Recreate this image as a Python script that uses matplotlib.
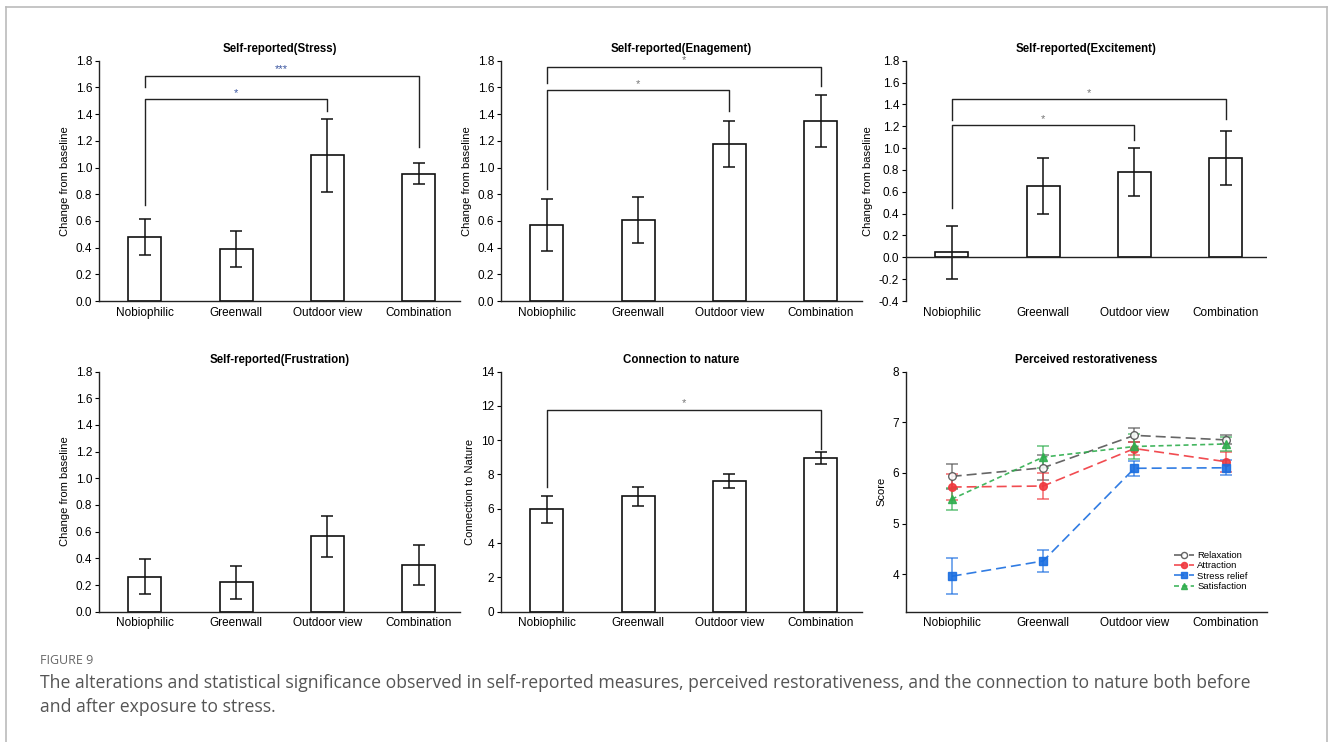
import numpy as np
import matplotlib
matplotlib.use("Agg")
import matplotlib.pyplot as plt
from matplotlib.lines import Line2D

plt.rcParams['font.family'] = ['Liberation Sans', 'DejaVu Sans']

# Data
groups = ["Nobiophilic", "Greenwall", "Outdoor view", "Combination"]

stress_mean = [0.48, 0.39, 1.09, 0.955]
stress_err = [0.137, 0.136, 0.274, 0.076]

engage_mean = [0.567, 0.607, 1.175, 1.348]
engage_err = [0.196, 0.173, 0.172, 0.195]

excite_mean = [0.045, 0.653, 0.784, 0.912]
excite_err = [0.24, 0.257, 0.22, 0.247]

frust_mean = [0.263, 0.22, 0.565, 0.35]
frust_err = [0.129, 0.125, 0.152, 0.15]

nature_mean = [5.96, 6.73, 7.62, 8.96]
nature_err = [0.77, 0.55, 0.43, 0.33]

relax_mean = [5.93, 6.10, 6.74, 6.65]
relax_err = [0.25, 0.25, 0.14, 0.09]
attract_mean = [5.72, 5.74, 6.48, 6.22]
attract_err = [0.25, 0.25, 0.13, 0.2]
relief_mean = [3.96, 4.26, 6.09, 6.10]
relief_err = [0.36, 0.21, 0.15, 0.15]
satis_mean = [5.48, 6.31, 6.52, 6.57]
satis_err = [0.22, 0.21, 0.24, 0.13]

# significance brackets: (i, j, bar height, left leg bottom, right leg bottom, label)
stress_sig = [(0, 3, 1.688, 1.606, 1.156, "***"), (0, 2, 1.513, 0.72, 1.423, "*")]
engage_sig = [(0, 3, 1.755, 1.635, 1.61, "*"), (0, 2, 1.58, 0.84, 1.423, "*")]
excite_sig = [(0, 3, 1.449, 1.257, 1.263, "*"), (0, 2, 1.208, 0.448, 1.074, "*")]
nature_sig = [(0, 3, 11.77, 7.27, 9.46, "*")]

W, H = 1330, 742
fig = plt.figure(figsize=(W / 100, H / 100), dpi=100)

# outer frame of the figure box
fig.add_artist(Line2D([6 / W, 6 / W], [0, 1 - 7 / H], color="#bbbbbb", lw=1.2, transform=fig.transFigure))
fig.add_artist(Line2D([1327 / W, 1327 / W], [0, 1 - 7 / H], color="#bbbbbb", lw=1.2, transform=fig.transFigure))
fig.add_artist(Line2D([6 / W, 1327 / W], [1 - 7 / H, 1 - 7 / H], color="#bbbbbb", lw=1.2, transform=fig.transFigure))

lefts = [99, 501, 906]
row_bottom = [301, 611.7]
row_top = [60.7, 371.5]
aw = 361


def make_ax(r, c):
    x0 = lefts[c] / W
    y0 = 1 - row_bottom[r] / H
    h = (row_bottom[r] - row_top[r]) / H
    ax = fig.add_axes([x0, y0, aw / W, h])
    ax.spines['top'].set_visible(False)
    ax.spines['right'].set_visible(False)
    for s in ['left', 'bottom']:
        ax.spines[s].set_linewidth(1.0)
        ax.spines[s].set_color("#222222")
    ax.set_xlim(-0.5, 3.45)
    ax.set_xticks(range(4))
    ax.set_xticklabels(groups, fontsize=8.5)
    ax.tick_params(axis='x', length=0, pad=4)
    ax.tick_params(axis='y', length=3, width=0.8, labelsize=8.5, pad=2)
    return ax


def bars(ax, mean, err):
    x = np.arange(4)
    ax.bar(x, mean, width=0.36, color="white", edgecolor="#111111", linewidth=1.2, zorder=2)
    ax.errorbar(x, mean, yerr=err, fmt='none', ecolor="#111111", elinewidth=1.1, capsize=4, capthick=1.1, zorder=3)


def brackets(ax, sigs, color):
    for i, j, y, lb, rb, lab in sigs:
        ax.plot([i, i, j, j], [lb, y, y, rb], color="#222222", lw=1.0, zorder=4)
        ax.annotate(lab, ((i + j) / 2, y), xytext=(0, 1), textcoords='offset points',
                    ha='center', va='bottom', fontsize=8, color=color)


def title(ax, t):
    ax.set_title(t, fontsize=8.3, fontweight='bold', pad=6)


# Panel 1
ax = make_ax(0, 0)
bars(ax, stress_mean, stress_err)
ax.set_ylim(0, 1.8)
ax.set_yticks(np.arange(0, 1.81, 0.2))
ax.set_yticklabels([f"{v:.1f}" for v in np.arange(0, 1.81, 0.2)])
brackets(ax, stress_sig, "#3a55a0")
title(ax, "Self-reported(Stress)")
ax.set_ylabel("Change from baseline", fontsize=8)

# Panel 2
ax = make_ax(0, 1)
bars(ax, engage_mean, engage_err)
ax.set_ylim(0, 1.8)
ax.set_yticks(np.arange(0, 1.81, 0.2))
ax.set_yticklabels([f"{v:.1f}" for v in np.arange(0, 1.81, 0.2)])
brackets(ax, engage_sig, "#777777")
title(ax, "Self-reported(Enagement)")
ax.set_ylabel("Change from baseline", fontsize=8)

# Panel 3
ax = make_ax(0, 2)
bars(ax, excite_mean, excite_err)
ax.set_ylim(-0.4, 1.8)
ax.spines['bottom'].set_visible(False)
ax.axhline(0, color="#222222", lw=1.0, zorder=4)
yt = np.arange(-0.4, 1.81, 0.2)
ax.set_yticks(yt)
ax.set_yticklabels([f"{v:.1f}" if abs(v) > 1e-9 else "0.0" for v in yt])
brackets(ax, excite_sig, "#777777")
title(ax, "Self-reported(Excitement)")
ax.set_ylabel("Change from baseline", fontsize=8)

# Panel 4
ax = make_ax(1, 0)
bars(ax, frust_mean, frust_err)
ax.set_ylim(0, 1.8)
ax.set_yticks(np.arange(0, 1.81, 0.2))
ax.set_yticklabels([f"{v:.1f}" for v in np.arange(0, 1.81, 0.2)])
title(ax, "Self-reported(Frustration)")
ax.set_ylabel("Change from baseline", fontsize=8)

# Panel 5
ax = make_ax(1, 1)
bars(ax, nature_mean, nature_err)
ax.set_ylim(0, 14)
ax.set_yticks(range(0, 15, 2))
brackets(ax, nature_sig, "#777777")
title(ax, "Connection to nature")
ax.set_ylabel("Connection to Nature", fontsize=8)

# Panel 6
ax = make_ax(1, 2)
x = np.arange(4)
series = [
    ("Relaxation", relax_mean, relax_err, "#555555", 'o', (0, (6, 3)), "white"),
    ("Attraction", attract_mean, attract_err, "#f0383e", 'o', (0, (6, 3)), None),
    ("Stress relief", relief_mean, relief_err, "#1a6ee0", 's', (0, (6, 3)), None),
    ("Satisfaction", satis_mean, satis_err, "#2fae4e", '^', (0, (3, 2)), None),
]
for name, m, e, col, mk, ls, mfc in series:
    ax.errorbar(x, m, yerr=e, fmt='none', ecolor=col, elinewidth=1.1, capsize=4, capthick=1.1, alpha=0.75, zorder=2)
    ax.plot(x, m, linestyle=ls, color=col, lw=1.2, marker=mk, markersize=5.5,
            markerfacecolor=mfc if mfc else col, markeredgecolor=col, label=name, alpha=0.9, zorder=3)
ax.set_ylim(3.26, 8)
ax.set_yticks([4, 5, 6, 7, 8])
title(ax, "Perceived restorativeness")
ax.set_ylabel("Score", fontsize=8)
ax.legend(loc='lower right', bbox_to_anchor=(0.97, 0.05), frameon=False, fontsize=6.8,
          handlelength=2.2, handletextpad=0.3, labelspacing=0.15, markerscale=0.8)

# Caption
fig.text(40 / W, 1 - 660 / H, "FIGURE 9", fontsize=9, color="#666666", family=['Open Sans', 'DejaVu Sans'], va='center')
fig.text(40 / W, 1 - 683 / H,
         "The alterations and statistical significance observed in self-reported measures, perceived restorativeness, and the connection to nature both before",
         fontsize=12.7, color="#555555", family=['Open Sans', 'DejaVu Sans'], va='center')
fig.text(40 / W, 1 - 707 / H, "and after exposure to stress.",
         fontsize=12.7, color="#555555", family=['Open Sans', 'DejaVu Sans'], va='center')

fig.savefig("out.png", dpi=100)
